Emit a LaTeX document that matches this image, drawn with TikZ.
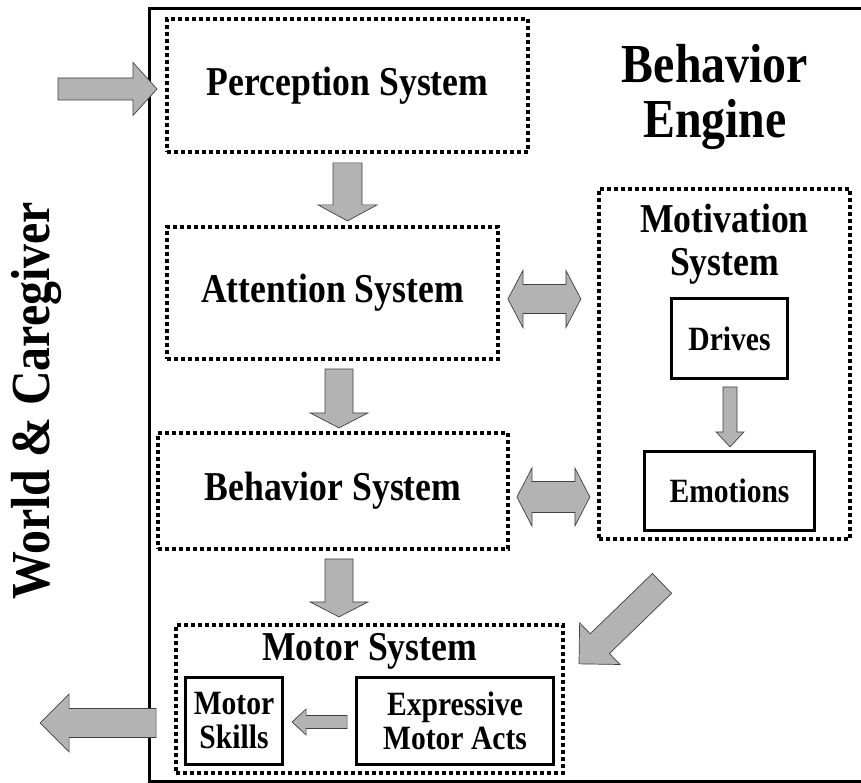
\documentclass[tikz,border=0pt]{standalone}
\usepackage{fontspec}
\setmainfont{Liberation Serif}[FakeStretch=0.87]
\usetikzlibrary{positioning}
\definecolor{arrowgray}{RGB}{179,179,179}
\tikzset{
    sysbox/.style = {align=center, inner sep=0pt, font=\bfseries\fontsize{41}{43}\selectfont},
    dotbox/.style = {sysbox, draw=black, line width=3.8pt, dash pattern=on 3.6pt off 3.4pt},
    subbox/.style = {align=center, inner sep=0pt, draw=black, line width=2.8pt, font=\bfseries\fontsize{34}{34}\selectfont},
    bigtext/.style = {align=center, inner sep=0pt, font=\bfseries\fontsize{55}{55}\selectfont},
    arrowbody/.style = {fill=arrowgray, draw=black!75, line width=0.7pt, line join=miter},
    % block arrows: length, shaft half width, head half width, head length
    pics/blk/.style n args={4}{code={
        \draw[arrowbody] (0,-#2) -- ({#1-#4},-#2) -- ({#1-#4},-#3) -- (#1,0)
            -- ({#1-#4},#3) -- ({#1-#4},#2) -- (0,#2) -- cycle;
    }},
    pics/dblk/.style n args={4}{code={
        \draw[arrowbody] (#4,-#2) -- ({#1-#4},-#2) -- ({#1-#4},-#3) -- (#1,0)
            -- ({#1-#4},#3) -- ({#1-#4},#2) -- (#4,#2) -- (#4,#3) -- (0,0)
            -- (#4,-#3) -- cycle;
    }}
}

\begin{document}
\begin{tikzpicture}[x=1pt, y=-1pt]
    \useasboundingbox (0,0) rectangle (861,783);
    \clip (0,0) rectangle (861,783);

    % the engine frame (open to the right)
    \draw[line width=3pt] (900,9) -- (149,9) -- (149,781) -- (900,781);

    \node[bigtext] (engine) at (715,97) {Behavior\\Engine};
    \node[bigtext, rotate=90] (world) at (36,401) {World \& Caregiver};

    % systems
    \node[dotbox, minimum width=361pt, minimum height=133pt] (perc) at (347.5,85.5) {Perception System};
    \node[dotbox, minimum width=331pt, minimum height=132pt] (attn) at (332.5,293) {Attention System};
    \node[dotbox, minimum width=350pt, minimum height=116pt] (behav) at (333,491) {Behavior System};
    \node[dotbox, minimum width=251pt, minimum height=350pt] (motiv) at (724.5,364) {};
    \node[sysbox, below=17pt of motiv.north] (motivlbl) {Motivation\\System};
    \node[subbox, minimum width=116pt, minimum height=80pt] (drives) at (729.5,338.5) {Drives};
    \node[subbox, minimum width=170pt, minimum height=79pt] (emot) at (729.5,491) {Emotions};
    \node[dotbox, minimum width=387pt, minimum height=148pt] (motor) at (369.5,699) {};
    \node[sysbox, below=10pt of motor.north] (motorlbl) {Motor System};
    \node[subbox, minimum width=97pt, minimum height=87pt] (skills) at (234,721) {Motor\\Skills};
    \node[subbox, minimum width=197pt, minimum height=87pt] (expr) at (455,721) {Expressive\\Motor Acts};

    % block arrows
    \coordinate (worldin) at (58,89);
    \pic at (worldin) {blk={99}{11}{26.5}{24}};
    \pic[rotate=-90] at ([yshift=-9pt]perc.south) {blk={58}{14.5}{29.5}{16}};
    \pic[rotate=-90] at ([xshift=6.5pt, yshift=-8pt]attn.south) {blk={59}{14}{29}{15}};
    \pic[rotate=-90] at ([xshift=6pt, yshift=-8pt]behav.south) {blk={58}{14}{29}{15}};
    \pic at ([xshift=8pt, yshift=-6pt]attn.east) {dblk={73}{14.5}{28.5}{15}};
    \pic at ([xshift=7pt, yshift=-6pt]behav.east) {dblk={73}{15.5}{29}{15}};
    \pic[rotate=-90] at ([xshift=0.5pt, yshift=-7pt]drives.south) {blk={60}{7}{14}{15}};
    \pic[rotate=224.1] at ([xshift=-62.5pt, yshift=-42.5pt]motiv.south) {blk={115.6}{13.8}{29}{29}};
    \pic[rotate=180] at ([xshift=-8pt, yshift=-1pt]expr.west) {blk={55}{6.5}{13}{14}};
    \pic[rotate=180] at ([xshift=-28pt, yshift=-2pt]skills.west) {blk={116}{14.5}{29}{29}};
\end{tikzpicture}
\end{document}
